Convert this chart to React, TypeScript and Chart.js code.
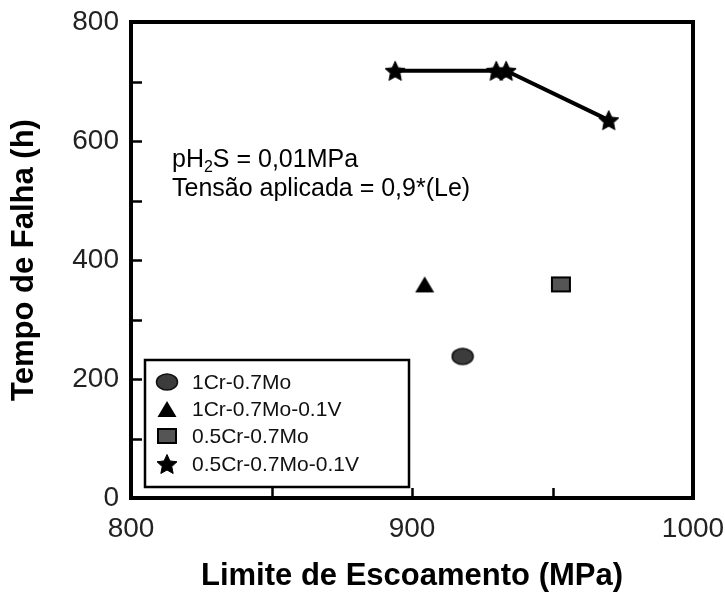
import React, { useEffect, useRef } from 'react';
import { Chart, registerables } from 'chart.js';

Chart.register(...registerables);

// ---- data ----
const seriesLabels = ['1Cr-0.7Mo', '1Cr-0.7Mo-0.1V', '0.5Cr-0.7Mo', '0.5Cr-0.7Mo-0.1V'];
const crMoX = [918];
const crMoY = [238];
const crMoVX = [904.5];
const crMoVY = [359];
const halfCrMoX = [953];
const halfCrMoY = [359];
const halfCrMoVX = [894, 930, 933.5, 970];
const halfCrMoVY = [718, 718, 718, 635];
const xTickLabels = [800, 900, 1000];
const yTickLabels = [0, 200, 400, 600, 800];
const xMinorTicks = [850, 900, 950];
const yMinorTicks = [100, 200, 300, 400, 500, 600, 700];

const FONT = '"Liberation Sans", Arial, sans-serif';

function makeCanvas(w: number, h: number, draw: (c: CanvasRenderingContext2D) => void) {
  const c = document.createElement('canvas');
  c.width = w;
  c.height = h;
  const ctx = c.getContext('2d')!;
  draw(ctx);
  return c;
}

function circleImg() {
  return makeCanvas(24, 20, (c) => {
    c.beginPath();
    c.ellipse(12, 10, 10.5, 8, 0, 0, Math.PI * 2);
    c.fillStyle = '#3c3c3c';
    c.fill();
    c.lineWidth = 1.5;
    c.strokeStyle = '#111';
    c.stroke();
  });
}
function triangleImg() {
  return makeCanvas(22, 18, (c) => {
    c.beginPath();
    c.moveTo(11, 1);
    c.lineTo(20.5, 17);
    c.lineTo(1.5, 17);
    c.closePath();
    c.fillStyle = '#000';
    c.fill();
  });
}
function squareImg() {
  return makeCanvas(22, 18, (c) => {
    c.fillStyle = '#555';
    c.fillRect(2, 2, 18, 14);
    c.lineWidth = 2;
    c.strokeStyle = '#000';
    c.strokeRect(2, 2, 18, 14);
  });
}
function starImg() {
  return makeCanvas(24, 22, (c) => {
    c.beginPath();
    const cx = 12, cy = 12, ro = 10.5, ri = 5;
    for (let i = 0; i < 10; i++) {
      const r = i % 2 === 0 ? ro : ri;
      const a = -Math.PI / 2 + (i * Math.PI) / 5;
      const x = cx + r * Math.cos(a);
      const y = cy + r * Math.sin(a);
      if (i === 0) c.moveTo(x, y);
      else c.lineTo(x, y);
    }
    c.closePath();
    c.fillStyle = '#000';
    c.fill();
    c.lineWidth = 1;
    c.strokeStyle = '#000';
    c.stroke();
  });
}

function zip(xs: number[], ys: number[]) {
  return xs.map((x, i) => ({ x, y: ys[i] }));
}

export default function App() {
  const ref = useRef<HTMLCanvasElement | null>(null);

  useEffect(() => {
    if (!ref.current) return;
    const imgs = [circleImg(), triangleImg(), squareImg(), starImg()];

    const decor = {
      id: 'decor',
      beforeDraw(chart: any) {
        const ctx = chart.ctx;
        ctx.save();
        ctx.fillStyle = '#fff';
        ctx.fillRect(0, 0, chart.width, chart.height);
        ctx.restore();
      },
      afterDraw(chart: any) {
        const ctx = chart.ctx as CanvasRenderingContext2D;
        const { left, right, top, bottom } = chart.chartArea;
        const xs = chart.scales.x;
        const ys = chart.scales.y;
        ctx.save();
        // inward ticks
        ctx.strokeStyle = '#000';
        ctx.lineWidth = 2.5;
        yMinorTicks.forEach((v) => {
          const py = Math.round(ys.getPixelForValue(v)) + 0.5;
          ctx.beginPath();
          ctx.moveTo(left, py);
          ctx.lineTo(left + 11, py);
          ctx.stroke();
        });
        xMinorTicks.forEach((v) => {
          const px = Math.round(xs.getPixelForValue(v)) + 0.5;
          ctx.beginPath();
          ctx.moveTo(px, bottom);
          ctx.lineTo(px, bottom - 10);
          ctx.stroke();
        });
        // frame
        ctx.lineWidth = 4;
        ctx.strokeRect(left, top, right - left, bottom - top);

        // annotation
        ctx.fillStyle = '#000';
        ctx.textBaseline = 'alphabetic';
        ctx.textAlign = 'left';
        const ax = 172;
        const ay1 = 167;
        const ay2 = 196;
        ctx.font = `25px ${FONT}`;
        let x = ax;
        ctx.fillText('pH', x, ay1);
        x += ctx.measureText('pH').width;
        ctx.font = `16px ${FONT}`;
        ctx.fillText('2', x, ay1 + 5);
        x += ctx.measureText('2').width;
        ctx.font = `25px ${FONT}`;
        ctx.fillText('S = 0,01MPa', x, ay1);
        ctx.fillText('Tensão aplicada = 0,9*(Le)', ax, ay2);

        // legend
        const bx = 145, by = 360, bw = 264, bh = 127;
        ctx.lineWidth = 2.5;
        ctx.strokeRect(bx, by, bw, bh);
        ctx.font = `21px ${FONT}`;
        ctx.textBaseline = 'middle';
        ctx.fillStyle = '#111';
        const rowY = [382, 409, 436, 464];
        chart.data.datasets.forEach((ds: any, i: number) => {
          const img = imgs[i];
          ctx.drawImage(img, 167 - img.width / 2, rowY[i] - img.height / 2);
          ctx.fillText(ds.label, 192, rowY[i] + 1);
        });
        ctx.restore();
      },
    };

    const chart = new Chart(ref.current, {
      type: 'scatter',
      data: {
        datasets: [
          { label: seriesLabels[0], data: zip(crMoX, crMoY), pointStyle: imgs[0] as any, pointRadius: 10 },
          { label: seriesLabels[1], data: zip(crMoVX, crMoVY), pointStyle: imgs[1] as any, pointRadius: 10 },
          { label: seriesLabels[2], data: zip(halfCrMoX, halfCrMoY), pointStyle: imgs[2] as any, pointRadius: 10 },
          {
            label: seriesLabels[3],
            data: zip(halfCrMoVX, halfCrMoVY),
            pointStyle: imgs[3] as any,
            pointRadius: 10,
            showLine: true,
            borderColor: '#000',
            borderWidth: 4,
          },
        ],
      },
      options: {
        animation: false,
        responsive: false,
        devicePixelRatio: 1,
        layout: { padding: { top: 22, right: 32, left: 0, bottom: 0 } },
        plugins: { legend: { display: false }, tooltip: { enabled: false } },
        scales: {
          x: {
            type: 'linear',
            min: 800,
            max: 1000,
            afterBuildTicks: (s: any) => {
              s.ticks = xTickLabels.map((v) => ({ value: v }));
            },
            afterFit: (s: any) => {
              s.height = 101;
              s.paddingLeft = 0;
              s.paddingRight = 0;
            },
            ticks: {
              font: { family: FONT, size: 28 },
              color: '#222',
              padding: 14,
              autoSkip: false,
              maxRotation: 0,
              callback: (v: any) => String(v),
            },
            grid: { display: false, drawTicks: false },
            border: { display: false },
            title: {
              display: true,
              text: 'Limite de Escoamento (MPa)',
              font: { family: FONT, size: 31, weight: 'bold' },
              color: '#000',
              padding: { top: 0, bottom: 4 },
            },
          },
          y: {
            type: 'linear',
            min: 0,
            max: 800,
            afterBuildTicks: (s: any) => {
              s.ticks = yTickLabels.map((v) => ({ value: v }));
            },
            afterFit: (s: any) => {
              s.width = 131;
              s.paddingTop = 0;
              s.paddingBottom = 0;
            },
            ticks: {
              font: { family: FONT, size: 28 },
              color: '#222',
              padding: 12,
              autoSkip: false,
              callback: (v: any) => String(v),
            },
            grid: { display: false, drawTicks: false },
            border: { display: false },
            title: {
              display: true,
              text: 'Tempo de Falha (h)',
              font: { family: FONT, size: 31, weight: 'bold' },
              color: '#000',
              padding: { top: 6, bottom: 0 },
            },
          },
        },
      },
      plugins: [decor],
    });
    return () => chart.destroy();
  }, []);

  return (
    <div style={{ position: 'absolute', left: 0, top: 0, width: 725, height: 599 }}>
      <canvas ref={ref} width={725} height={599} style={{ width: 725, height: 599 }} />
    </div>
  );
}
